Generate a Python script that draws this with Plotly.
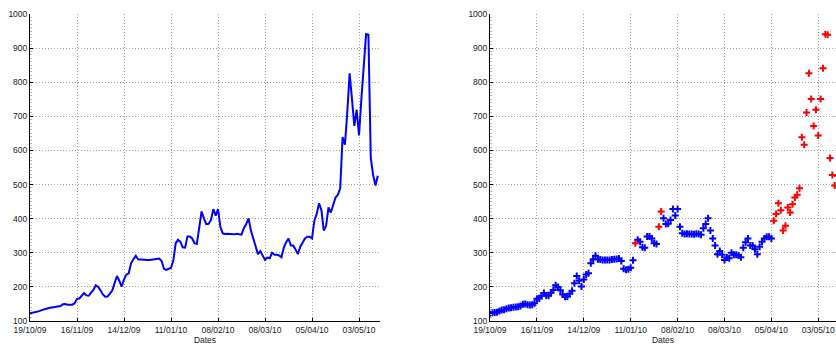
import numpy as np
import pandas as pd
import plotly.graph_objects as go

# Daily closing level, one value per trading day starting 19/10/2009
price = [
    123, 124, 125, 126, 129, 132, 133, 136, 138, 139,
    140, 141, 142, 144, 149, 150, 148, 147, 148, 152,
    165, 166, 174, 182, 175, 174, 183, 191, 205, 200,
    190, 178, 171, 172, 180, 189, 211, 232, 218, 201,
    222, 236, 240, 269, 281, 291, 281, 280, 279, 279,
    279, 279, 280, 281, 282, 283, 276, 253, 250, 252,
    256, 278, 328, 338, 332, 316, 315, 348, 348, 342,
    328, 326, 376, 421, 401, 384, 385, 396, 428, 409,
    428, 376, 357, 355, 356, 355, 355, 354, 356, 355,
    353, 372, 384, 401, 365, 342, 321, 296, 305, 294,
    279, 286, 284, 300, 294, 294, 292, 287, 315, 331,
    342, 321, 321, 310, 296, 318, 332, 342, 347, 347,
    342, 394, 414, 445, 425, 365, 379, 433, 418, 442,
    462, 470, 489, 639, 617, 711, 826, 751, 672, 719,
    644, 751, 841, 941, 939, 578, 528, 497, 526,
]

# Trading days flagged as the high-volatility regime
high_regime_days = [62, 72, 73] + list(range(121, 149))

start_date = "2009-10-19"
end_date = "2010-05-15 12:00"
right_end_date = "2010-05-13 14:00"
y_ticks = [100, 200, 300, 400, 500, 600, 700, 800, 900, 1000]

# Trading days are spread evenly over the calendar span (7 calendar days per 5 sessions)
n = len(price)
dates = pd.Timestamp(start_date) + pd.to_timedelta(np.arange(n) * 7 / 5, unit="D")
price = np.array(price)
is_high = np.zeros(n, dtype=bool)
is_high[high_regime_days] = True

BLUE = "#0000ff"
RED = "#ff0000"
FONT = "Liberation Sans"
TEXT = "#222222"
GRID = "#a0a0a0"

fig = go.Figure()

fig.add_trace(go.Scatter(
    x=dates, y=price, mode="lines",
    line=dict(color=BLUE, width=2),
    xaxis="x", yaxis="y", showlegend=False,
))

for mask, color in [(~is_high, BLUE), (is_high, RED)]:
    fig.add_trace(go.Scatter(
        x=dates[mask], y=price[mask], mode="markers",
        marker=dict(symbol="cross-thin", size=5, color=color,
                    line=dict(color=color, width=2)),
        xaxis="x2", yaxis="y2", showlegend=False,
    ))

common_x = dict(
    type="date",
    tick0=start_date,
    dtick=28 * 86400000,
    tickformat="%d/%m/%y",
    showgrid=True, gridcolor=GRID, griddash="1px,2px", gridwidth=1,
    showline=True, linecolor="#000000", linewidth=1,
    ticks="inside", ticklen=3, tickcolor="#000000",
    tickfont=dict(family=FONT, size=8.5, color=TEXT),
    ticklabelstandoff=1,
    title=dict(text="Dates", font=dict(family=FONT, size=8.5, color=TEXT), standoff=0),
    zeroline=False,
    automargin=False,
)
common_y = dict(
    range=[100, 1000],
    tickvals=y_ticks,
    showgrid=True, gridcolor=GRID, griddash="1px,2px", gridwidth=1,
    showline=True, linecolor="#000000", linewidth=1,
    ticks="inside", ticklen=3, tickcolor="#000000",
    minor=dict(dtick=10, ticks="inside", ticklen=2, tickcolor="#b8b8b8", showgrid=False),
    tickfont=dict(family=FONT, size=8.5, color=TEXT),
    zeroline=False,
    automargin=False,
)

W, H = 836, 347
fig.update_layout(
    width=W, height=H,
    margin=dict(l=0, r=0, t=0, b=0, autoexpand=False),
    paper_bgcolor="white", plot_bgcolor="white",
    xaxis=dict(common_x, domain=[30 / W, 380 / W], range=[start_date, end_date], anchor="y"),
    yaxis=dict(common_y, domain=[(H - 321) / H, (H - 14) / H], anchor="x"),
    xaxis2=dict(common_x, domain=[490 / W, 1.0], range=[start_date, right_end_date], anchor="y2"),
    yaxis2=dict(common_y, domain=[(H - 321) / H, (H - 14) / H], anchor="x2"),
)

fig.write_html("out.html")
